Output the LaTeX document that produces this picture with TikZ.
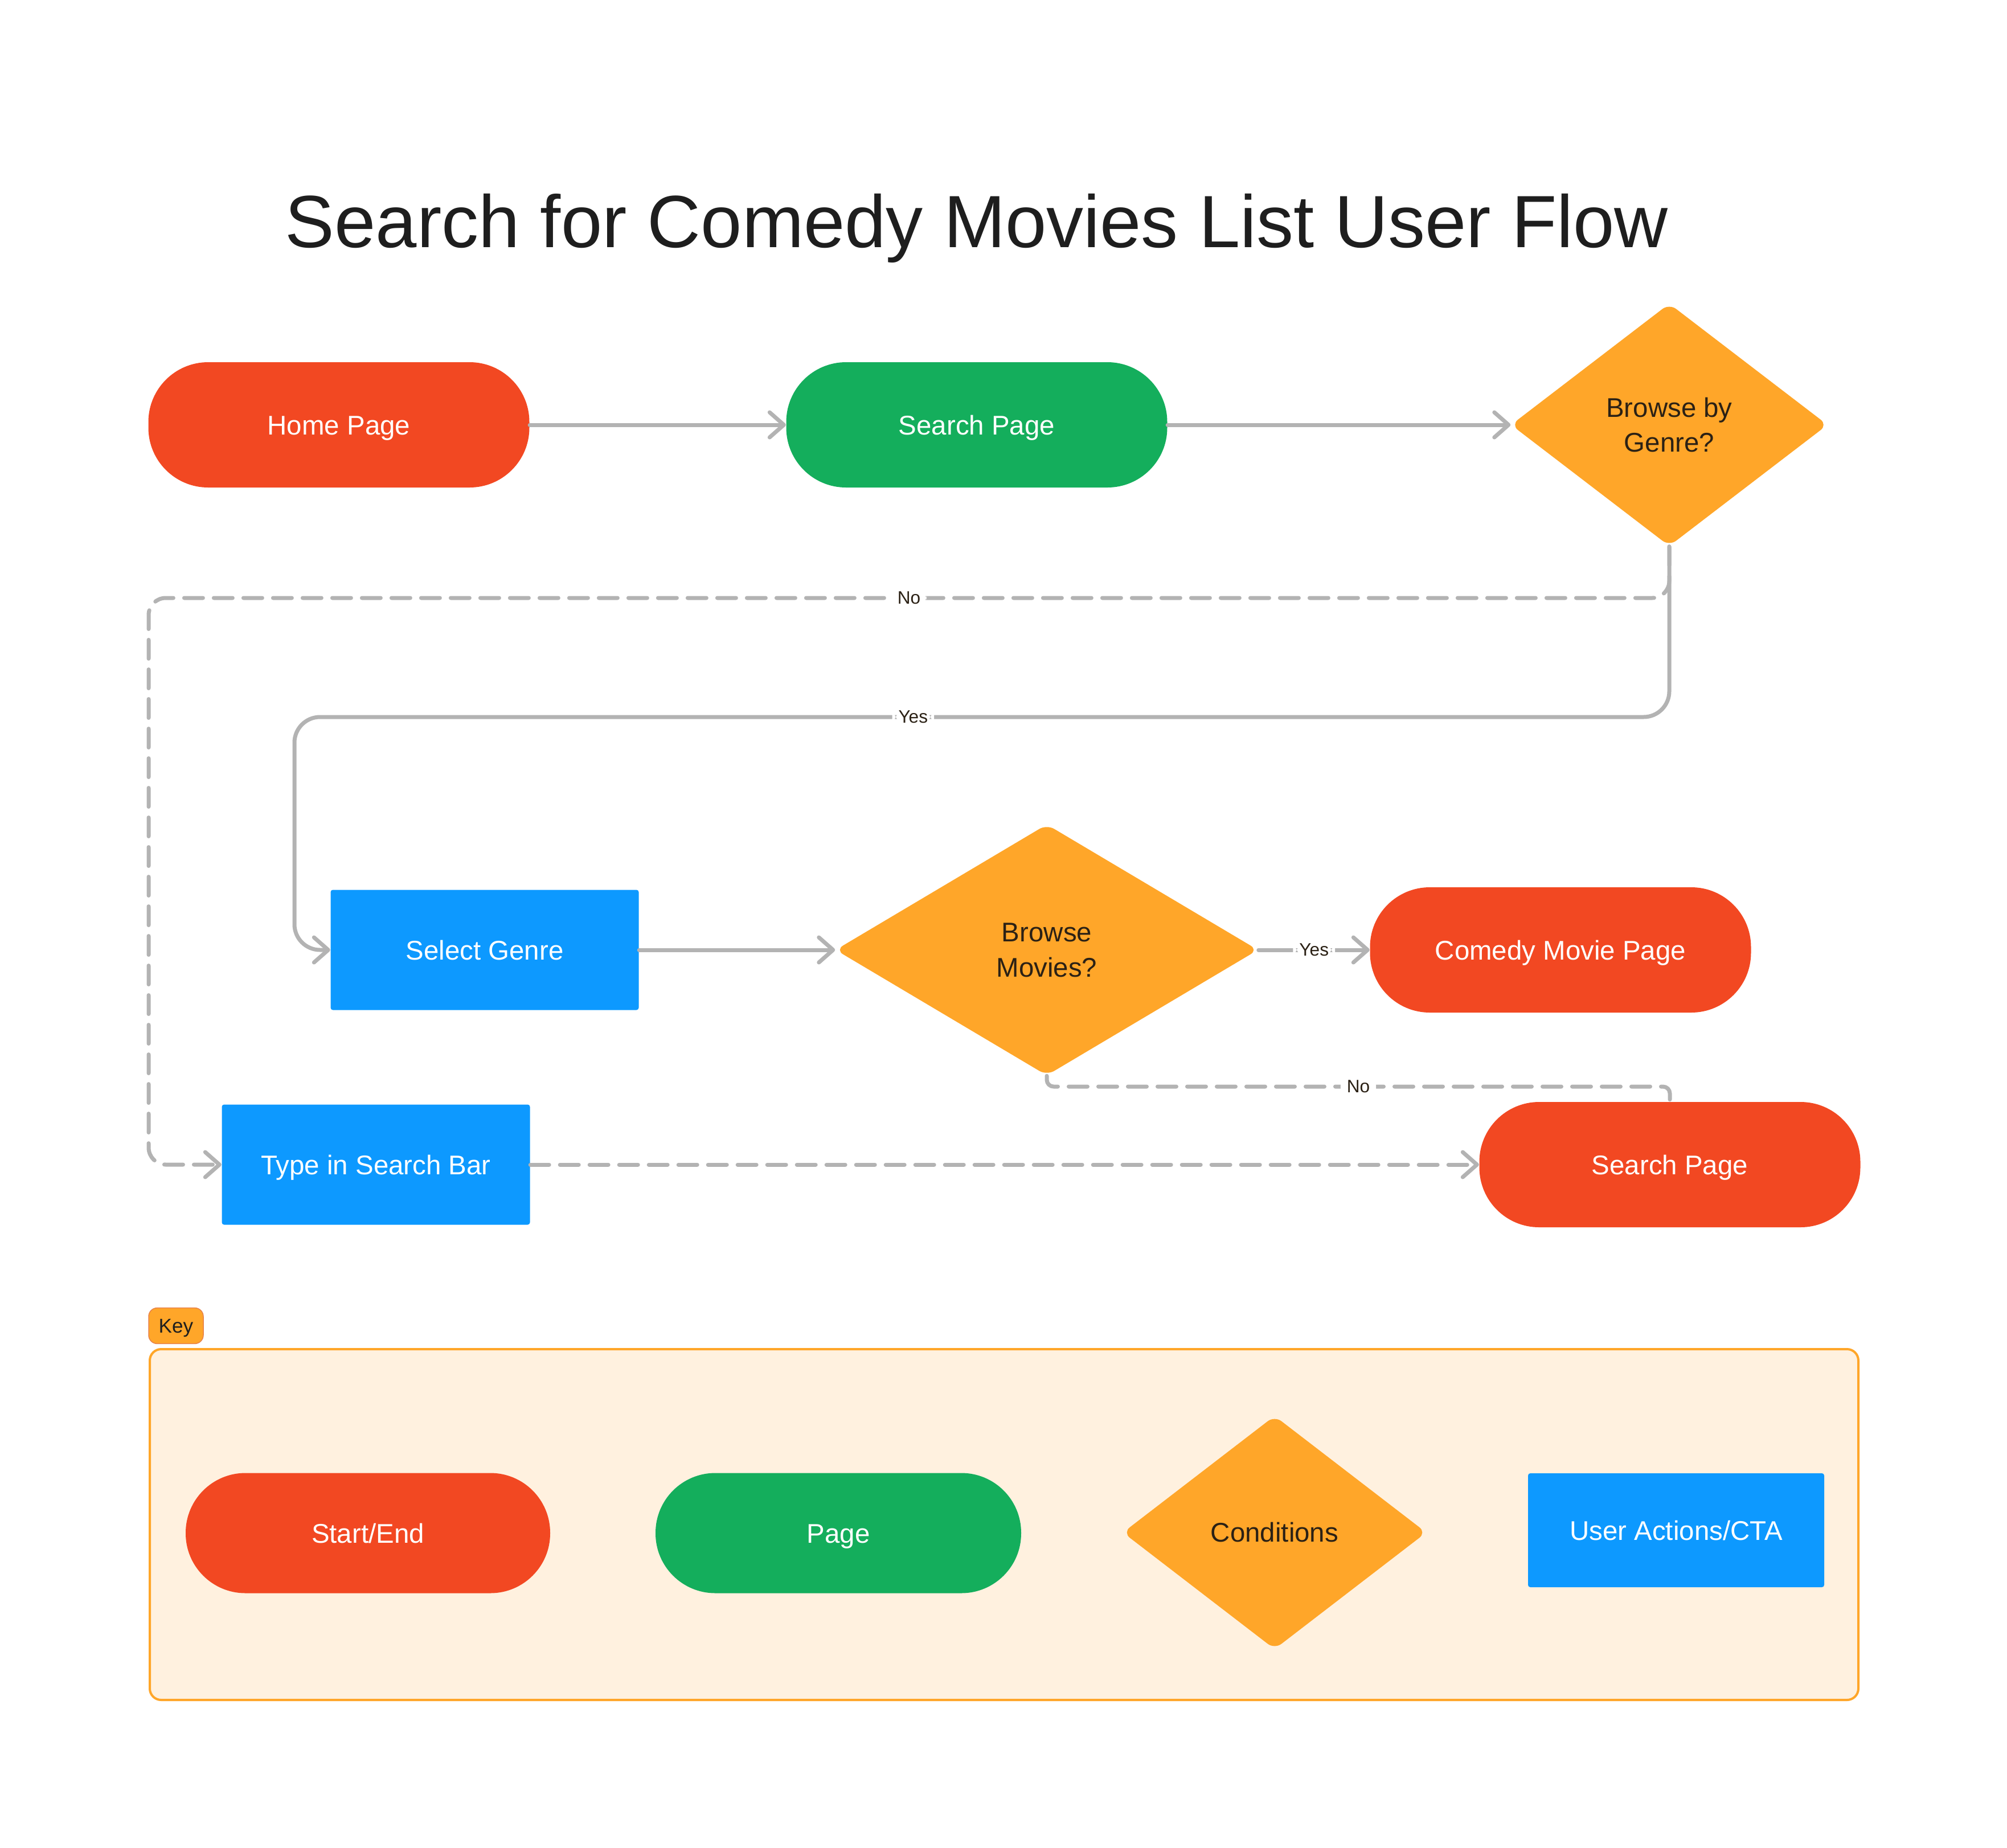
\documentclass[tikz,border=0pt]{standalone}
\usepackage{fontspec}
\setmainfont{Liberation Sans}
\usepackage{tikz}
\usetikzlibrary {shapes.geometric}
\usetikzlibrary {positioning}
\usetikzlibrary {arrows.meta}

\definecolor{flowred}{HTML}{F24822}
\definecolor{flowgreen}{HTML}{14AE5C}
\definecolor{floworange}{HTML}{FFA629}
\definecolor{flowblue}{HTML}{0D99FF}
\definecolor{flowgray}{HTML}{B3B3B3}
\definecolor{flowtext}{HTML}{2B2115}
\definecolor{titlegray}{HTML}{1E1E1E}
\definecolor{keyfill}{HTML}{FFF1DF}
\definecolor{keyedge}{HTML}{E8834A}

\newcommand{\titlefont}{\fontsize{37pt}{44pt}\selectfont}
\newcommand{\nodefont}{\fontsize{13.5pt}{17.6pt}\selectfont}
\newcommand{\answerfont}{\fontsize{9pt}{11pt}\selectfont}
\newcommand{\keyfont}{\fontsize{10pt}{12pt}\selectfont}

\begin{document}
\begin{tikzpicture}[
        startend/.style = {rectangle, rounded corners=10.5mm, fill=flowred, text=white,
                           minimum width=66.9mm, minimum height=22mm, font=\nodefont,
                           text height=12.4pt, text depth=2.7pt},
        pagebox/.style = {startend, fill=flowgreen},
        decision/.style = {diamond, fill=floworange, text=flowtext, inner sep=0pt,
                           rounded corners=1.5mm, align=center, font=\nodefont},
        actionbox/.style = {rectangle, rounded corners=0.4mm, fill=flowblue, text=white,
                            minimum width=54.1mm, minimum height=21.1mm, font=\nodefont,
                            text height=12.4pt, text depth=2.7pt},
        flowline/.style = {draw=flowgray, line width=0.7mm, line cap=round, line join=round,
                           rounded corners=4.5mm},
        flowdash/.style = {flowline, rounded corners=3mm, dash pattern=on 3.3mm off 1.9mm},
        flowtip/.style = {arrows = -{Straight Barb[length=2.5mm, width=4.4mm, round]}},
        answer/.style = {fill=white, inner sep=1.1mm, text=flowtext, font=\answerfont},
        keyframe/.style = {fill=keyfill, draw=floworange, line width=0.4mm, rounded corners=2mm},
        keytag/.style = {rectangle, rounded corners=1.5mm, fill=floworange, draw=keyedge,
                         line width=0.15mm, minimum width=9.6mm, minimum height=5mm,
                         text=titlegray, font=\keyfont, text height=9.2pt, text depth=2pt}
    ]

            \useasboundingbox (0,0) rectangle (35.24,-32.44);
            % \draw [help lines] (0,0) grid (35,-32);

            \node (title) [anchor=base, font=\titlefont, text=titlegray] at (17.15,-4.34)
            {Search for Comedy Movies List User Flow};

            \path   (5.95,-7.46) node (home) [startend] {Home Page}
                    (17.15,-7.46) node (search) [pagebox] {Search Page}
                    (29.31,-7.46) node (bgenre) [decision, minimum width=55.6mm, minimum height=42.6mm] {Browse by\\Genre?}

                    (8.51,-16.68) node (sgenre) [actionbox] {Select Genre}
                    (18.38,-16.68) node (bmovies) [decision, minimum width=74.2mm, minimum height=44.1mm] {Browse\\Movies?}
                    (27.40,-16.68) node (comedy) [startend] {Comedy Movie Page}

                    (6.60,-20.45) node (typebar) [actionbox] {Type in Search Bar}
                    (29.32,-20.45) node (result) [startend] {Search Page};

            \draw [flowline, flowtip] (node cs:name=home) -- (node cs:name=search);
            \draw [flowline, flowtip] (node cs:name=search) -- (node cs:name=bgenre);

            \draw [flowdash, flowtip] (bgenre.south) -- (29.31,-10.50)
                -- node [answer, pos=0.5] {No} (2.61,-10.50) -- (2.61,-20.45) -- (typebar.west);
            \draw [flowline, flowtip] (bgenre.south) -- (29.31,-12.59)
                -- node [answer, pos=0.55] {Yes} (5.17,-12.59) -- (5.17,-16.68) -- (sgenre.west);

            \draw [flowline, flowtip] (node cs:name=sgenre) -- (node cs:name=bmovies);
            \draw [flowline, flowtip] (node cs:name=bmovies) -- node [answer] {Yes} (node cs:name=comedy);
            \draw [flowdash, rounded corners=1.2mm] (bmovies.south) -- (18.38,-19.08)
                -- node [answer, pos=0.5] {No} (29.32,-19.08) -- (result.north);
            \draw [flowdash, flowtip] (node cs:name=typebar) -- (node cs:name=result);

            % key
            \draw [keyframe] (2.63,-23.69) rectangle (32.63,-29.85);
            \node (keylabel) [keytag] at (3.09,-23.28) {Key};

            \path   (6.46,-26.92) node (kstart) [startend, minimum width=64mm, minimum height=21.1mm] {Start/End}
                    (14.72,-26.92) node (kpage) [pagebox, minimum width=64.2mm, minimum height=21.1mm] {Page}
                    (22.38,-26.91) node (kcond) [decision, minimum width=53.3mm, minimum height=41mm] {Conditions}
                    (29.43,-26.87) node (kaction) [actionbox, minimum width=52mm, minimum height=20mm] {User Actions/CTA};
        \end{tikzpicture}
\end{document}
